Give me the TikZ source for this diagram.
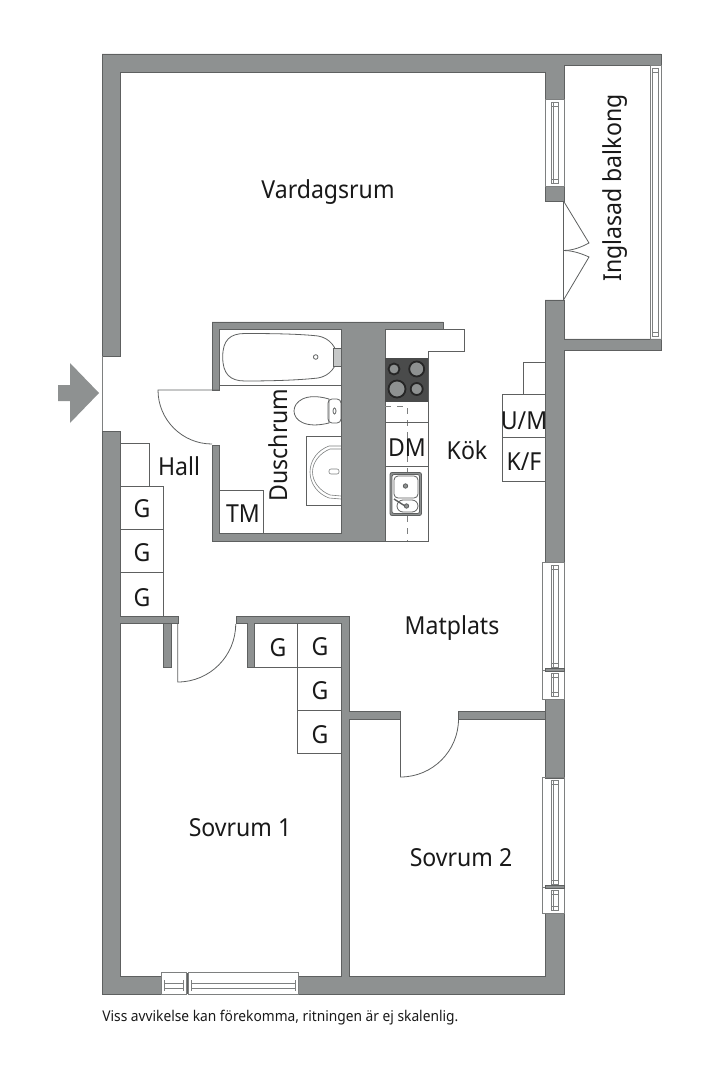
\documentclass[tikz,border=0pt]{standalone}
\usepackage{fontspec}
\setmainfont[FakeStretch=0.93]{Noto Sans}
\usetikzlibrary{positioning}
\definecolor{wallgray}{HTML}{8E9191}
\definecolor{wallline}{HTML}{5E6060}
\definecolor{hobgray}{HTML}{4A4B4B}
\tikzset{
	wall/.style = {fill = wallgray, draw = wallline, line width = 0.4pt, line join = miter},
	fixture/.style = {draw = wallline, line width = 0.4pt},
	thin fixture/.style = {draw = wallline!80, line width = 0.3pt},
	burner/.style = {fill = wallgray, draw = black!85, line width = 0.9pt},
	label text/.style = {inner sep = 0pt, font = \fontsize{12.4}{14}\selectfont, text = black!90}
}
\begin{document}
\begin{tikzpicture}[x = 0.5pt, y = -0.5pt]
	\useasboundingbox (0,0) rectangle (720,1080);
	% walls
	\path [wall] (102,356) -- (102,54) -- (661,54) -- (661,65) -- (564,65) -- (564,99) -- (545,99) -- (545,72) -- (120,72) -- (120,356) -- cycle;
	\path [wall] (545,186) rectangle (564,201);
	\path [wall] (545,300) -- (564,300) -- (564,339) -- (661,339) -- (661,350) -- (564,350) -- (564,562) -- (545,562) -- cycle;
	\path [wall] (545,699) rectangle (564,778);
	\path [wall] (102,431) -- (120,431) -- (120,616) -- (178,616) -- (178,623) -- (120,623) -- (120,976) -- (161,976) -- (161,994) -- (102,994) -- cycle;
	\path [wall] (236,616) -- (349,616) -- (349,711.7) -- (400.5,711.7) -- (400.5,719) -- (349,719) -- (349,976) -- (545,976) -- (545,913) -- (564,913) -- (564,994) -- (298,994) -- (298,976) -- (341,976) -- (341,623) -- (254.5,623) -- (254.5,667) -- (247,667) -- (247,623) -- (236,623) -- cycle;
	\path [wall] (458.5,711.7) rectangle (545,719);
	\path [wall] (163,623) rectangle (171,667);
	\path [wall] (212,390) -- (212,322) -- (443,322) -- (443,329) -- (385,329) -- (385,541) -- (212,541) -- (212,445) -- (219,445) -- (219,533) -- (341,533) -- (341,329) -- (219,329) -- (219,390) -- cycle;

	% entrance
	\path [fill = wallgray] (58,385) -- (70,385) -- (70,363) -- (99,393) -- (70,423) -- (70,401) -- (58,401) -- cycle;
	\draw [thin fixture] (102,356) -- (102,431);

	% windows
	\foreach\lft/\upper/\lower in {545/99/186, 542/562/670, 542/670/699, 542/777/887, 542/887/913}{
		\draw [thin fixture] (\lft,\upper) rectangle (564,\lower);
		\draw [thin fixture] (551,\upper+3) rectangle (558,\lower-3);
		\draw [thin fixture] (553,\upper+3) -- (553,\lower-3);
		\draw [thin fixture] (551,\upper+7) -- (558,\upper+7);
		\draw [thin fixture] (551,\lower-7) -- (558,\lower-7);
	}
	\foreach\y in {670,887}{
		\path [wall] (545,\y-1.5) rectangle (564,\y+1.5);
	}
	\draw [thin fixture] (650,65) rectangle (661,339);
	\draw [thin fixture] (652.5,68) rectangle (658,336);
	\draw [thin fixture] (652.5,72) -- (658,72);
	\draw [thin fixture] (652.5,332) -- (658,332);
	\foreach\lft/\rgt in {161/186.5, 188.5/298}{
		\draw [thin fixture] (\lft,972) rectangle (\rgt,994);
		\draw [thin fixture] (\lft+3,983) rectangle (\rgt-3,988);
		\draw [thin fixture] (\lft+3,980) -- (\lft+3,991);
		\draw [thin fixture] (\rgt-3,980) -- (\rgt-3,991);
	}
	\draw [line width = 0.9pt, wallline] (187.5,973) -- (187.5,994);

	% doors
	\draw [fixture] (219,390) -- (158,390) arc [start angle = 180, end angle = 90, radius = 54];
	\draw [fixture] (177.7,623) -- (177.7,682) arc [start angle = 90, end angle = 0, radius = 58];
	\draw [fixture] (400.5,719) -- (400.5,777) arc [start angle = 90, end angle = 0, radius = 58];
	\draw [fixture] (563.5,201) -- (563.5,300);
	\draw [fixture] (563.5,201) -- (589,243) .. controls (578,249) and (570,250.5) .. (563.5,250.5);
	\draw [fixture] (563.5,300) -- (589,257) .. controls (578,252) and (570,250.5) .. (563.5,250.5);

	% closets
	\draw [fixture] (120,443) -- (149,443) -- (149,486);
	\foreach\upper/\lower in {486/529, 529/572.5, 572.5/616}{
		\draw [fixture] (120,\upper) rectangle (163.5,\lower);
	}
	\draw [fixture] (254.5,623) rectangle (297.7,667);
	\draw [fixture] (297.7,623) rectangle (341,667);
	\draw [fixture] (297.7,667) rectangle (341,710);
	\draw [fixture] (297.7,710) rectangle (341,753.5);
	\draw [fixture] (523.5,394) -- (523.5,362) -- (545,362);
	\draw [fixture] (502,394) rectangle (545,437.7);
	\draw [fixture] (502,437.7) rectangle (545,481);

	% bathroom
	\draw [fixture] (219,385.5) -- (341,385.5);
	\draw [fixture] (222.7,357) .. controls (222.7,340) and (230,333.5) .. (245,333.5) .. controls (275,333.5) and (300,334) .. (318,336) .. controls (330,338) and (337,348) .. (337,357) .. controls (337,366) and (330,376) .. (318,378) .. controls (300,380) and (275,381) .. (245,381) .. controls (230,381) and (222.7,374) .. (222.7,357) -- cycle;
	\draw [fixture] (315.7,357) circle [radius = 2.3];
	\draw [fixture, fill = wallgray!50] (333.5,348.5) rectangle (341,366);
	\draw [fixture] (329,399) .. controls (305,392) and (294,402) .. (294,411) .. controls (294,420) and (305,429) .. (329,423) -- cycle;
	\draw [fixture, rounded corners = 2pt] (328,399) -- (341,399) -- (341,423) -- (328,423) -- cycle;
	\draw [fixture] (334.5,411) ellipse [x radius = 1.5, y radius = 3];
	\draw [fixture] (306.5,436) rectangle (341,505);
	\draw [thin fixture] (341,446) -- (329,446) .. controls (318,450) and (310,460) .. (310,472) .. controls (310,484) and (318,494) .. (329,498) -- (341,499);
	\draw [thin fixture] (341,449) -- (330,449) .. controls (320,453) and (312.5,462) .. (312.5,472) .. controls (312.5,482) and (320,491) .. (330,495) -- (341,496);
	\draw [thin fixture, rounded corners = 1pt] (329,469) rectangle (339,474);
	\draw [fixture] (219,490) -- (263,490) -- (263,533);

	% kitchen
	\draw [fixture] (385,329) -- (464.6,329) -- (464.6,351) -- (428,351) -- (428,541) -- (385,541);
	\path [fill = hobgray] (385,358) rectangle (428,402);
	\foreach\x/\y/\r in {394/369/5.5, 416.7/369/7.5, 397/389/8.5, 416.7/389/6}{
		\draw [burner] (\x,\y) circle [radius = \r];
	}
	\draw [thin fixture, dashed] (385,406) -- (407,406) -- (407,541);
	\draw [fixture] (385,422.5) -- (428,422.5);
	\draw [fixture] (385,466) -- (428,466);
	\draw [fixture, fill = wallgray, rounded corners = 1pt] (390,472.5) rectangle (421.5,515.5);
	\draw [fixture, fill = white, rounded corners = 1pt] (392,474.5) rectangle (419.5,513.5);
	\draw [fixture, rounded corners = 2pt] (394,476) rectangle (418,498);
	\draw [fixture, rounded corners = 3pt] (397,500) rectangle (418,512);
	\draw [fixture, fill = wallgray] (405.5,486) circle [radius = 2.2];
	\draw [fixture, fill = wallgray] (406.5,506) circle [radius = 2.2];
	\draw [line width = 0.7pt, wallline] (394,499) -- (405,506);

	% labels
	\node [label text] (vardagsrum) at (328,192) {Vardagsrum};
	\node [label text, rotate = 90] (balkong) at (615,188) {Inglasad balkong};
	\node [label text, rotate = 90] (duschrum) at (278,445) {Duschrum};
	\node [label text] (hall) at (179,466) {Hall};
	\node [label text] (kok) at (467,450) {Kök};
	\node [label text] (dm) at (407,448) {DM};
	\node [label text] (tm) at (243,514) {TM};
	\node [label text] (um) at (524,421) {U/M};
	\node [label text] (kf) at (524,462) {K/F};
	\node [label text] (matplats) at (452,628) {Matplats};
	\node [label text] (sovrum1) at (240,828) {Sovrum 1};
	\node [label text] (sovrum2) at (461,858) {Sovrum 2};
	\foreach\x/\y [count = \i] in {142/509, 142/553, 142/598, 278/648, 320/647, 320/691, 320/735}{
		\node [label text] (g\i) at (\x,\y) {G};
	}
	\node [label text, anchor = base west, font = \fontsize{7.4}{9}\selectfont] (note) at (102,1021) {Viss avvikelse kan förekomma, ritningen är ej skalenlig.};
\end{tikzpicture}
\end{document}
